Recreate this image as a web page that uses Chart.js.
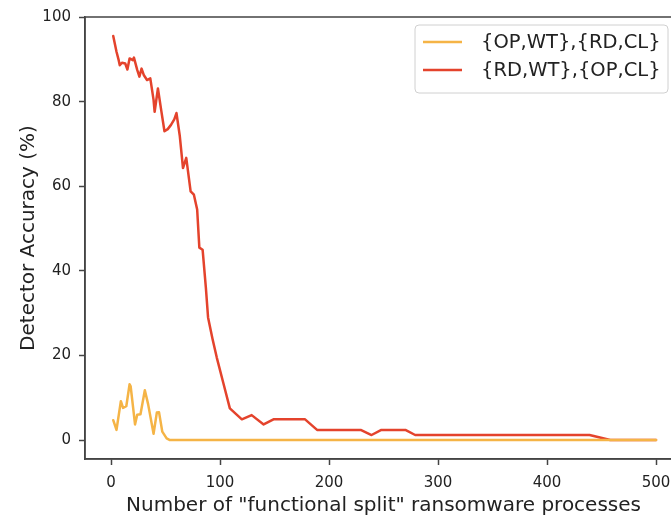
<!DOCTYPE html>
<html>
<head>
<meta charset="utf-8">
<script src="https://cdn.jsdelivr.net/npm/chart.js@4/dist/chart.umd.min.js"></script>
<style>
  html, body { margin: 0; padding: 0; background: #fff; overflow: hidden; }
  #wrap { width: 671px; height: 518px; overflow: hidden; position: relative; }
  canvas { display: block; }
</style>
</head>
<body>
<div id="wrap"><canvas id="c" width="700" height="518"></canvas></div>
<script>
// Number of "functional split" processes (x) and detector accuracy in % (y)
const opwtProcesses = [2, 5, 9, 11, 14, 17, 18, 22, 24, 27, 31, 34, 39, 42, 44, 47, 51, 54, 500];
const opwtAccuracy  = [4.7, 2.4, 9.2, 7.6, 8.0, 13.2, 12.7, 3.7, 6.0, 6.1, 11.8, 8.5, 1.5, 6.5, 6.6, 2.0, 0.4, 0, 0];

const rdwtProcesses = [2, 5, 7, 8, 10, 13, 15, 17, 20, 21, 24, 26, 28, 30, 33, 36, 39, 40, 43, 46, 49, 52, 55, 58, 60, 63, 66, 69, 73, 76, 79, 81, 84, 87, 89, 93, 97, 103, 109, 120, 129, 140, 149, 178, 189, 229, 239, 248, 270, 279, 439, 458, 500];
const rdwtAccuracy  = [95.5, 91.8, 89.8, 88.6, 89.2, 89.0, 87.6, 90.2, 89.8, 90.4, 87.5, 85.9, 87.8, 86.3, 85.1, 85.5, 80.4, 77.6, 83.1, 78.0, 73.0, 73.5, 74.5, 75.8, 77.3, 72.0, 64.3, 66.7, 58.8, 58.0, 54.5, 45.5, 45.0, 36.0, 29.0, 24.0, 19.5, 13.5, 7.5, 4.9, 5.9, 3.7, 4.9, 4.9, 2.4, 2.4, 1.2, 2.4, 2.4, 1.2, 1.2, 0, 0];

const seriesLabels = ['{OP,WT},{RD,CL}', '{RD,WT},{OP,CL}'];
const xTicks = [0, 100, 200, 300, 400, 500];
const yTicks = [0, 20, 40, 60, 80, 100];

const ORANGE = '#f5b446';
const RED = '#e4432c';
const FONT = "'DejaVu Sans', sans-serif";

const toPoints = (xs, ys) => xs.map((x, i) => ({ x, y: ys[i] }));

// Axis frame: matplotlib-style box around the plot area
const framePlugin = {
  id: 'frame',
  afterDraw(chart) {
    const { ctx, chartArea: a } = chart;
    ctx.save();
    ctx.strokeStyle = '#444';
    ctx.lineWidth = 1.5;
    ctx.strokeRect(a.left, a.top, a.right - a.left, a.bottom - a.top);
    ctx.restore();
  }
};

// Legend box in the upper right corner of the plot
const legendPlugin = {
  id: 'cornerLegend',
  afterDraw(chart) {
    const { ctx } = chart;
    const x0 = 415, y0 = 25, w = 253, h = 68, r = 4;
    ctx.save();
    ctx.beginPath();
    ctx.moveTo(x0 + r, y0);
    ctx.arcTo(x0 + w, y0, x0 + w, y0 + h, r);
    ctx.arcTo(x0 + w, y0 + h, x0, y0 + h, r);
    ctx.arcTo(x0, y0 + h, x0, y0, r);
    ctx.arcTo(x0, y0, x0 + w, y0, r);
    ctx.closePath();
    ctx.fillStyle = 'rgba(255,255,255,0.85)';
    ctx.fill();
    ctx.strokeStyle = '#d0d0d0';
    ctx.lineWidth = 1;
    ctx.stroke();
    chart.data.datasets.forEach((ds, i) => {
      const yy = y0 + 17 + i * 28;
      ctx.beginPath();
      ctx.moveTo(x0 + 8, yy);
      ctx.lineTo(x0 + 47, yy);
      ctx.strokeStyle = ds.borderColor;
      ctx.lineWidth = 2.5;
      ctx.stroke();
      ctx.fillStyle = '#222';
      ctx.font = '19.5px ' + FONT;
      ctx.textBaseline = 'middle';
      ctx.textAlign = 'left';
      ctx.fillText(ds.label, x0 + 66, yy + 1);
    });
    ctx.restore();
  }
};

new Chart(document.getElementById('c'), {
  type: 'line',
  data: {
    datasets: [
      { label: seriesLabels[0], data: toPoints(opwtProcesses, opwtAccuracy), borderColor: ORANGE, backgroundColor: ORANGE },
      { label: seriesLabels[1], data: toPoints(rdwtProcesses, rdwtAccuracy), borderColor: RED, backgroundColor: RED }
    ]
  },
  options: {
    responsive: false,
    animation: false,
    layout: { padding: { top: 15, right: 18, left: 0, bottom: 0 } },
    elements: {
      point: { radius: 0 },
      line: { borderWidth: 2.5, tension: 0, borderJoinStyle: 'round', borderCapStyle: 'round' }
    },
    plugins: { legend: { display: false }, tooltip: { enabled: false } },
    scales: {
      x: {
        type: 'linear',
        min: -23.9,
        max: 523.8,
        afterBuildTicks: s => { s.ticks = xTicks.map(v => ({ value: v })); },
        afterFit: s => { s.height = 59; },
        grid: { drawOnChartArea: false, tickLength: 6, tickWidth: 1.5, tickColor: '#444' },
        border: { display: true, color: '#444', width: 1.5 },
        ticks: { color: '#222', font: { family: FONT, size: 15 }, padding: 9, maxRotation: 0 },
        title: { display: true, text: 'Number of "functional split" ransomware processes', color: '#222', font: { family: FONT, size: 20 }, padding: { top: 0, bottom: 0 } }
      },
      y: {
        type: 'linear',
        min: -4.47,
        max: 100,
        afterBuildTicks: s => { s.ticks = yTicks.map(v => ({ value: v })); },
        afterFit: s => { s.width = 85; },
        grid: { drawOnChartArea: false, tickLength: 6, tickWidth: 1.5, tickColor: '#444' },
        border: { display: true, color: '#444', width: 1.5 },
        ticks: { color: '#222', font: { family: FONT, size: 15 }, padding: 8 },
        title: { display: true, text: 'Detector Accuracy (%)', color: '#222', font: { family: FONT, size: 20 }, padding: { top: 17, bottom: 0 } }
      }
    }
  },
  plugins: [framePlugin, legendPlugin]
});
</script>
</body>
</html>
